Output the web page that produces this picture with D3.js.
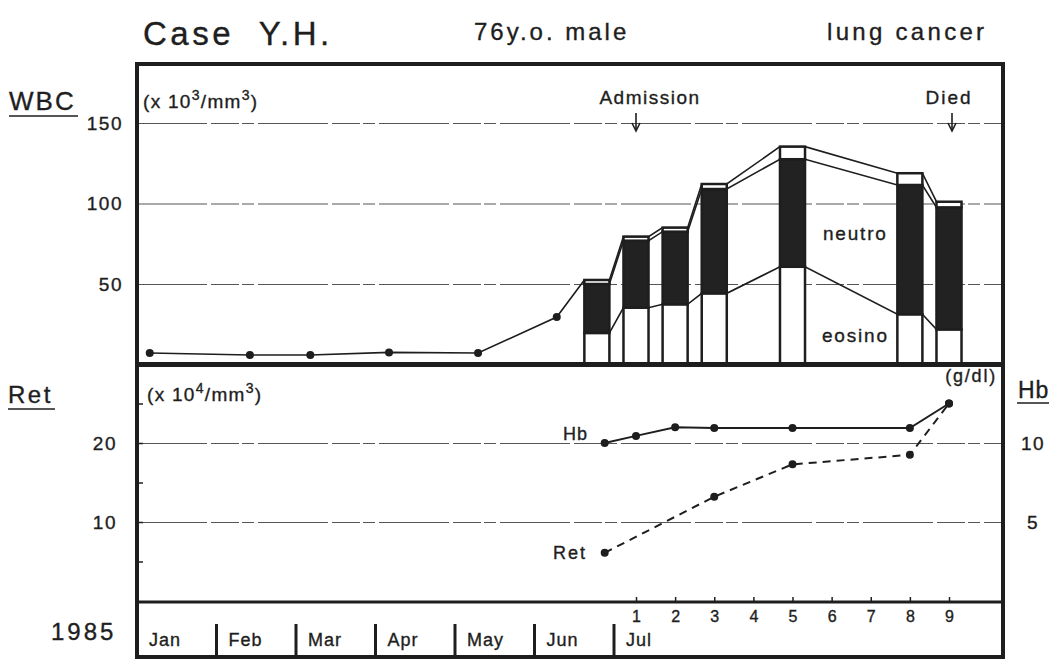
<!DOCTYPE html>
<html>
<head>
<meta charset="utf-8">
<script src="https://cdn.jsdelivr.net/npm/d3@7"></script>
<style>
  body { margin: 0; background: #fff; }
  svg { font-family: "Liberation Sans", Arial, sans-serif; }
  text { fill: #1e1e1e; stroke: #1e1e1e; stroke-width: 0.35; }
</style>
</head>
<body>
<div id="chart"></div>
<script>
// --- data ---
const months = ["Jan", "Feb", "Mar", "Apr", "May", "Jun", "Jul"];
const weeks = [1, 2, 3, 4, 5, 6, 7, 8, 9];

// WBC before admission, x in months since Jan 1
const wbcEarlyMonth = [0.16, 1.42, 2.18, 3.17, 4.29, 5.28];
const wbcEarly = [7.1, 5.9, 5.9, 7.5, 7.1, 29.5];

// stacked WBC bars, x in weeks (1 = first July tick)
const barWeeks = [0, 1, 2, 3, 5, 8, 9];
const eosino = [19.6, 35.3, 37.4, 44.2, 60.7, 31.2, 21.8];
const neutro = [30.4, 41.6, 45.1, 64.8, 66.8, 80.3, 75.8];
const other = [2.5, 2.5, 2.5, 3.1, 7.8, 7.3, 3.5];

// Hb (g/dl) and Ret (x10^4/mm3)
const hbWeeks = [0.2, 1, 2, 3, 5, 8, 9];
const hb = [10.0, 10.45, 11.0, 10.95, 10.95, 10.95, 12.5];
const retWeeks = [0.2, 3, 5, 8, 9];
const ret = [6.1, 13.2, 17.3, 18.5, 25];

const width = 1056, height = 661;
const L = 137, R = 1003, T = 64, M1 = 364.5, M2 = 602, B = 657;
const ink = "#1e1e1e";

const svg = d3.select("#chart").append("svg")
    .attr("width", width).attr("height", height);

const xMonth = d3.scaleLinear().domain([0, 6]).range([L, 614]);
const xWeek = d3.scaleLinear().domain([1, 9]).range([636, 949]);
const yWbc = d3.scaleLinear().domain([0, 150]).range([M1, 123]);
const yRet = d3.scaleLinear().domain([0, 20]).range([601, 443]);
const yHb = d3.scaleLinear().domain([0, 10]).range([601, 443]);

// gridlines
function grid(scale, values) {
    const g = svg.append("g")
        .attr("transform", `translate(${L},0)`)
        .call(d3.axisRight(scale).tickValues(values).tickSize(R - L).tickFormat(""));
    g.select(".domain").remove();
    g.selectAll("line").attr("stroke", "#555").attr("stroke-width", 1.1)
        .attr("stroke-dasharray", "70,4,28,3,12,4");
}
grid(yWbc, [50, 100, 150]);
grid(yRet, [10, 20]);

// left tick labels
const leftWbc = svg.append("g").attr("transform", `translate(${L},0)`)
    .call(d3.axisLeft(yWbc).tickValues([50, 100, 150]).tickSize(0).tickPadding(14));
const leftRet = svg.append("g").attr("transform", `translate(${L},0)`)
    .call(d3.axisLeft(yRet).tickValues([5, 10, 15, 20, 25]).tickSize(-6).tickPadding(20)
        .tickFormat(d => d % 10 === 0 ? d : ""));
[leftWbc, leftRet].forEach(g => {
    g.select(".domain").remove();
    g.selectAll("line").attr("stroke", ink).attr("stroke-width", 1.5);
    g.selectAll("text").attr("font-size", 19).attr("fill", ink)
        .attr("letter-spacing", 1.5).attr("font-family", "Liberation Sans, Arial");
});

const rightHb = svg.append("g").attr("transform", `translate(${R},0)`)
    .call(d3.axisRight(yHb).tickValues([5, 10]).tickSize(0).tickPadding(30));
rightHb.select(".domain").remove();
rightHb.selectAll("text").attr("font-size", 19).attr("fill", ink)
    .attr("text-anchor", "middle").attr("letter-spacing", 1.5)
    .attr("font-family", "Liberation Sans, Arial");

// early WBC line, joined to the first bar
const bw = xWeek(1) - xWeek(0.36);
const early = wbcEarlyMonth.map((m, i) => [xMonth(m), yWbc(wbcEarly[i])]);
const total0 = eosino[0] + neutro[0] + other[0];
svg.append("path")
    .attr("d", d3.line()(early.concat([[xWeek(barWeeks[0]) - bw / 2, yWbc(total0)]])))
    .attr("fill", "none").attr("stroke", ink).attr("stroke-width", 1.6);
svg.selectAll("circle.early").data(early).enter().append("circle")
    .attr("class", "early")
    .attr("cx", d => d[0]).attr("cy", d => d[1]).attr("r", 4).attr("fill", ink);

// stacked bars
const table = barWeeks.map((w, i) => ({ week: w, eosino: eosino[i], neutro: neutro[i], other: other[i] }));
const stack = d3.stack().keys(["eosino", "neutro", "other"])(table);

// lines linking bar levels
stack.forEach(layer => {
    const pts = layer.flatMap(d => [
        [xWeek(d.data.week) - bw / 2, yWbc(d[1])],
        [xWeek(d.data.week) + bw / 2, yWbc(d[1])]
    ]);
    svg.append("path").attr("d", d3.line()(pts))
        .attr("fill", "none").attr("stroke", ink).attr("stroke-width", 1.6);
});

const fills = { eosino: "#fff", neutro: "#222", other: "#fff" };
svg.append("g").selectAll("g").data(stack).enter().append("g")
    .attr("fill", d => fills[d.key])
    .selectAll("rect").data(d => d).enter().append("rect")
    .attr("x", d => xWeek(d.data.week) - bw / 2)
    .attr("y", d => yWbc(d[1]))
    .attr("width", bw)
    .attr("height", d => yWbc(d[0]) - yWbc(d[1]))
    .attr("stroke", ink).attr("stroke-width", 2.5);

// Hb and Ret lines
const hbPts = hbWeeks.map((w, i) => [xWeek(w), yHb(hb[i])]);
const retPts = retWeeks.map((w, i) => [xWeek(w), yRet(ret[i])]);
svg.append("path").attr("d", d3.line()(hbPts))
    .attr("fill", "none").attr("stroke", ink).attr("stroke-width", 2);
svg.append("path").attr("d", d3.line()(retPts))
    .attr("fill", "none").attr("stroke", ink).attr("stroke-width", 2)
    .attr("stroke-dasharray", "8,6");
svg.selectAll("circle.hb").data(hbPts.concat(retPts)).enter().append("circle")
    .attr("class", "hb")
    .attr("cx", d => d[0]).attr("cy", d => d[1]).attr("r", 4).attr("fill", ink);

// frame
svg.append("rect").attr("x", L).attr("y", T).attr("width", R - L).attr("height", B - T)
    .attr("fill", "none").attr("stroke", ink).attr("stroke-width", 4);
svg.append("line").attr("x1", L).attr("x2", R).attr("y1", M1).attr("y2", M1)
    .attr("stroke", ink).attr("stroke-width", 5);
svg.append("line").attr("x1", L).attr("x2", R).attr("y1", M2).attr("y2", M2)
    .attr("stroke", ink).attr("stroke-width", 3);

// week axis under the Hb panel
const wAxis = svg.append("g").attr("transform", `translate(0,${M2})`)
    .call(d3.axisBottom(xWeek).tickValues(weeks).tickSize(-5).tickPadding(9));
wAxis.select(".domain").remove();
wAxis.selectAll("line").attr("stroke", ink).attr("stroke-width", 1.5);
wAxis.selectAll("text").attr("font-size", 16).attr("fill", ink)
    .attr("font-family", "Liberation Sans, Arial");

// month strip
svg.selectAll("line.month").data(months.slice(1)).enter().append("line")
    .attr("class", "month")
    .attr("x1", (d, i) => xMonth(i + 1)).attr("x2", (d, i) => xMonth(i + 1))
    .attr("y1", 624).attr("y2", B)
    .attr("stroke", ink).attr("stroke-width", 3);
svg.selectAll("text.month").data(months).enter().append("text")
    .attr("class", "month")
    .attr("x", (d, i) => xMonth(i) + 12).attr("y", 646)
    .attr("font-size", 18).attr("letter-spacing", 1)
    .text(d => d);

// labels
function label(x, y, s, size, opts = {}) {
    const t = svg.append("text").attr("x", x).attr("y", y)
        .attr("font-size", size).attr("letter-spacing", opts.ls || 0)
        .attr("text-anchor", opts.anchor || "start")
        .style("white-space", "pre");
    t.text(s);
    return t;
}
label(143, 45, "Case  Y.H.", 33, { ls: 3.5 });
label(474, 40, "76y.o. male", 24, { ls: 3 });
label(827, 40, "lung cancer", 24, { ls: 3.3 });

label(9, 110, "WBC", 26, { ls: 2 });
svg.append("line").attr("x1", 9).attr("x2", 78).attr("y1", 116).attr("y2", 116)
    .attr("stroke", ink).attr("stroke-width", 1.5);
label(8, 403, "Ret", 24, { ls: 2.5 });
svg.append("line").attr("x1", 8).attr("x2", 55).attr("y1", 409).attr("y2", 409)
    .attr("stroke", ink).attr("stroke-width", 1.5);
label(1018, 398, "Hb", 23, { ls: 1 });
svg.append("line").attr("x1", 1017).attr("x2", 1049).attr("y1", 403).attr("y2", 403)
    .attr("stroke", ink).attr("stroke-width", 1.5);

function unit(x, y, exp) {
    const t = svg.append("text").attr("x", x).attr("y", y)
        .attr("font-size", 19).attr("letter-spacing", 1.3);
    t.append("tspan").text("(x 10");
    t.append("tspan").attr("dy", -8).attr("font-size", 14).text(exp);
    t.append("tspan").attr("dy", 8).text("/mm");
    t.append("tspan").attr("dy", -8).attr("font-size", 14).text("3");
    t.append("tspan").attr("dy", 8).text(")");
}
unit(143, 108, "3");
unit(147, 401, "4");
label(997, 382, "(g/dl)", 18, { anchor: "end", ls: 1.8 });

label(650, 104, "Admission", 19, { anchor: "middle", ls: 1.5 });
label(949, 104, "Died", 19, { anchor: "middle", ls: 2 });
[[xWeek(1), 113], [xWeek(9) + 3, 113]].forEach(([x, y]) => {
    svg.append("line").attr("x1", x).attr("x2", x).attr("y1", y).attr("y2", y + 16)
        .attr("stroke", ink).attr("stroke-width", 1.6);
    svg.append("path").attr("d", `M${x - 4},${y + 10}L${x},${y + 18}L${x + 4},${y + 10}`)
        .attr("fill", "none").attr("stroke", ink).attr("stroke-width", 1.6);
});

label(823, 240, "neutro", 19, { ls: 1.8 });
label(822, 342, "eosino", 19, { ls: 1.8 });
label(563, 440, "Hb", 18, { ls: 1 });
label(553, 559, "Ret", 18, { ls: 2 });
label(51, 640, "1985", 24, { ls: 3 });
</script>
</body>
</html>
